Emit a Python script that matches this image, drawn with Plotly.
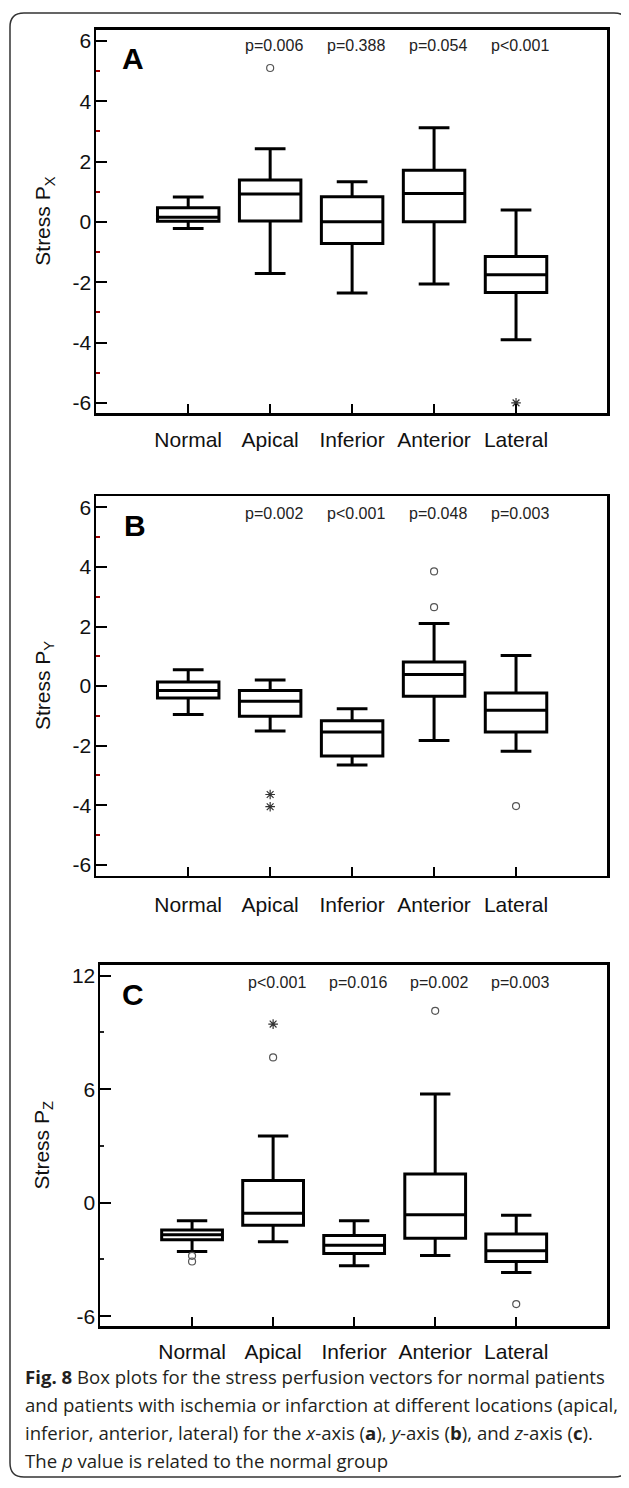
import plotly.graph_objects as go

# ---------------- data ----------------
categories = ["Normal", "Apical", "Inferior", "Anterior", "Lateral"]

# Panel A: Stress P_X
a_q1 = [0.02, 0.03, -0.72, 0.00, -2.34]
a_median = [0.15, 0.92, 0.00, 0.94, -1.75]
a_q3 = [0.47, 1.39, 0.83, 1.71, -1.15]
a_lower = [-0.22, -1.71, -2.36, -2.06, -3.91]
a_upper = [0.82, 2.42, 1.33, 3.12, 0.39]
a_circle_cat = ["Apical"]
a_circle_val = [5.10]
a_star_cat = ["Lateral"]
a_star_val = [-6.00]
a_pvals = ["p=0.006", "p=0.388", "p=0.054", "p<0.001"]

# Panel B: Stress P_Y
b_q1 = [-0.40, -1.01, -2.35, -0.34, -1.54]
b_median = [-0.15, -0.51, -1.54, 0.39, -0.81]
b_q3 = [0.14, -0.15, -1.16, 0.81, -0.23]
b_lower = [-0.95, -1.51, -2.65, -1.83, -2.19]
b_upper = [0.55, 0.20, -0.76, 2.10, 1.03]
b_circle_cat = ["Anterior", "Anterior", "Lateral"]
b_circle_val = [3.85, 2.65, -4.03]
b_star_cat = ["Apical", "Apical"]
b_star_val = [-3.64, -4.05]
b_pvals = ["p=0.002", "p<0.001", "p=0.048", "p=0.003"]

# Panel C: Stress P_Z
c_q1 = [-1.96, -1.19, -2.69, -1.88, -3.11]
c_median = [-1.70, -0.56, -2.25, -0.64, -2.54]
c_q3 = [-1.44, 1.17, -1.74, 1.52, -1.65]
c_lower = [-2.58, -2.07, -3.34, -2.79, -3.69]
c_upper = [-0.96, 3.53, -0.96, 5.74, -0.66]
c_circle_cat = ["Normal", "Normal", "Apical", "Anterior", "Lateral"]
c_circle_val = [-2.81, -3.11, 7.68, 10.14, -5.36]
c_star_cat = ["Apical"]
c_star_val = [9.44]
c_pvals = ["p<0.001", "p=0.016", "p=0.002", "p=0.003"]

ab_tickvals = [-6, -4, -2, 0, 2, 4, 6]
ab_ticktext = ["-6", "-4", "-2", "0", "2", "4", "6"]
ab_minor = [-5, -3, -1, 1, 3, 5]
c_tickvals = [-6, 0, 6, 12]
c_ticktext = ["-6", "0", "6", "12"]
c_minor = [-3, 3, 9]

caption_lines = [
    "<b>Fig. 8</b> Box plots for the stress perfusion vectors for normal patients",
    "and patients with ischemia or infarction at different locations (apical,",
    "inferior, anterior, lateral) for the <i>x</i>-axis (<b>a</b>), <i>y</i>-axis (<b>b</b>), and <i>z</i>-axis (<b>c</b>).",
    "The <i>p</i> value is related to the normal group",
]

# ---------------- layout helpers (page pixels -> paper) ----------------
W, H, OFF = 621, 1472, 8


def PX(px):
    return (px - OFF) / W


def PY(py):
    return 1 - (py - OFF) / H


AX_FONT = "Liberation Sans, Arial, sans-serif"

panels = [
    dict(name="A", title="Stress P<sub>X</sub>", q1=a_q1, med=a_median, q3=a_q3, lo=a_lower, up=a_upper,
         cc=a_circle_cat, cv=a_circle_val, sc=a_star_cat, sv=a_star_val, pv=a_pvals, py=5.83,
         xpx=(96, 607), ypx=(29, 413), yr=[-6.35, 6.36], xr=[-1.125, 5.11], xs=6,
         tv=ab_tickvals, tt=ab_ticktext, mv=ab_minor, mc="#a00000", tx=44, lx=120, ly=58),
    dict(name="B", title="Stress P<sub>Y</sub>", q1=b_q1, med=b_median, q3=b_q3, lo=b_lower, up=b_upper,
         cc=b_circle_cat, cv=b_circle_val, sc=b_star_cat, sv=b_star_val, pv=b_pvals, py=5.80,
         xpx=(96, 607), ypx=(496, 876), yr=[-6.37, 6.37], xr=[-1.125, 5.11], xs=8,
         tv=ab_tickvals, tt=ab_ticktext, mv=ab_minor, mc="#a00000", tx=44, lx=122, ly=525),
    dict(name="C", title="Stress P<sub>Z</sub>", q1=c_q1, med=c_median, q3=c_q3, lo=c_lower, up=c_upper,
         cc=c_circle_cat, cv=c_circle_val, sc=c_star_cat, sv=c_star_val, pv=c_pvals, py=11.63,
         xpx=(100, 607), ypx=(965, 1327), yr=[-6.53, 12.58], xr=[-1.136, 5.12], xs=5,
         tv=c_tickvals, tt=c_ticktext, mv=c_minor, mc="#222222", tx=43, lx=120, ly=995),
]

fig = go.Figure()
annotations = []
layout_axes = {}

for i, p in enumerate(panels):
    n = "" if i == 0 else str(i + 1)
    xa, ya = "x" + n, "y" + n
    fig.add_trace(go.Box(
        x=categories, q1=p["q1"], median=p["med"], q3=p["q3"],
        lowerfence=p["lo"], upperfence=p["up"],
        xaxis=xa, yaxis=ya, width=0.75, whiskerwidth=0.5,
        line=dict(color="black", width=3), fillcolor="white",
        boxpoints=False, showlegend=False, hoverinfo="skip",
    ))
    fig.add_trace(go.Scatter(
        x=p["cc"], y=p["cv"], mode="markers", xaxis=xa, yaxis=ya,
        marker=dict(symbol="circle-open", size=7, color="#555555", line=dict(width=1.2)),
        showlegend=False, hoverinfo="skip",
    ))
    fig.add_trace(go.Scatter(
        x=p["sc"], y=p["sv"], mode="markers", xaxis=xa, yaxis=ya,
        marker=dict(symbol="asterisk-open", size=8, color="#333333", line=dict(width=1.2)),
        showlegend=False, hoverinfo="skip",
    ))
    layout_axes["xaxis" + n] = dict(
        domain=[PX(p["xpx"][0]), PX(p["xpx"][1])], anchor=ya, type="category",
        categoryorder="array", categoryarray=categories, range=p["xr"],
        showline=True, linecolor="black", linewidth=2.5, mirror=True,
        ticks="inside", ticklen=9, tickwidth=2, tickcolor="black",
        tickfont=dict(family=AX_FONT, size=21, color="#111111"),
        ticklabelstandoff=p["xs"], showgrid=False, zeroline=False, fixedrange=True,
    )
    layout_axes["yaxis" + n] = dict(
        domain=[PY(p["ypx"][1]), PY(p["ypx"][0])], anchor=xa, range=p["yr"],
        tickmode="array", tickvals=p["tv"], ticktext=p["tt"],
        showline=True, linecolor="black", linewidth=2.5, mirror=True,
        ticks="inside", ticklen=11, tickwidth=2, tickcolor="black",
        minor=dict(tickmode="array", tickvals=p["mv"], ticks="inside", ticklen=4,
                   tickwidth=2, tickcolor=p["mc"], showgrid=False),
        tickfont=dict(family=AX_FONT, size=21, color="#111111"),
        ticklabelstandoff=-2, showgrid=False, zeroline=False, fixedrange=True,
    )
    # p-value labels
    for cat, txt in zip(categories[1:], p["pv"]):
        annotations.append(dict(
            x=cat, y=p["py"], xref=xa, yref=ya, text=txt, showarrow=False,
            xshift=4, font=dict(family=AX_FONT, size=16, color="#222222"),
        ))
    # panel letter
    annotations.append(dict(
        x=PX(p["lx"]), y=PY(p["ly"]), xref="paper", yref="paper", text="<b>%s</b>" % p["name"],
        showarrow=False, xanchor="left", yanchor="middle",
        font=dict(family=AX_FONT, size=30, color="black"),
    ))
    # y axis title
    annotations.append(dict(
        x=PX(p["tx"]), y=PY((p["ypx"][0] + p["ypx"][1]) / 2), xref="paper", yref="paper",
        text=p["title"], textangle=-90, showarrow=False, xanchor="center", yanchor="middle",
        font=dict(family=AX_FONT, size=21, color="#111111"),
    ))

cap_y = [1377, 1405, 1433, 1461]
for line, yy in zip(caption_lines, cap_y):
    annotations.append(dict(
        x=PX(23), y=PY(yy), xref="paper", yref="paper", text=line, showarrow=False,
        xanchor="left", yanchor="middle",
        font=dict(family="Open Sans, Noto Sans, sans-serif", size=18.6, color="#231f20"),
    ))

# outer rounded border
x0, x1, y0, y1, r = 10, 628, 12, 1478, 14
def P(px, py):
    return "%.5f,%.5f" % (PX(px), PY(py))
path = ("M " + P(x0 + r, y0) + " L " + P(x1 - r, y0) + " Q " + P(x1, y0) + " " + P(x1, y0 + r)
        + " L " + P(x1, y1 - r) + " Q " + P(x1, y1) + " " + P(x1 - r, y1)
        + " L " + P(x0 + r, y1) + " Q " + P(x0, y1) + " " + P(x0, y1 - r)
        + " L " + P(x0, y0 + r) + " Q " + P(x0, y0) + " " + P(x0 + r, y0) + " Z")

fig.update_layout(
    width=W, height=H, autosize=False,
    margin=dict(l=0, r=0, t=0, b=0, pad=0),
    paper_bgcolor="white", plot_bgcolor="white",
    annotations=annotations,
    shapes=[dict(type="path", path=path, xref="paper", yref="paper",
                 line=dict(color="#333333", width=1.5), layer="below")],
    **layout_axes,
)

fig.write_html("out.html", config=dict(displayModeBar=False, staticPlot=True))
